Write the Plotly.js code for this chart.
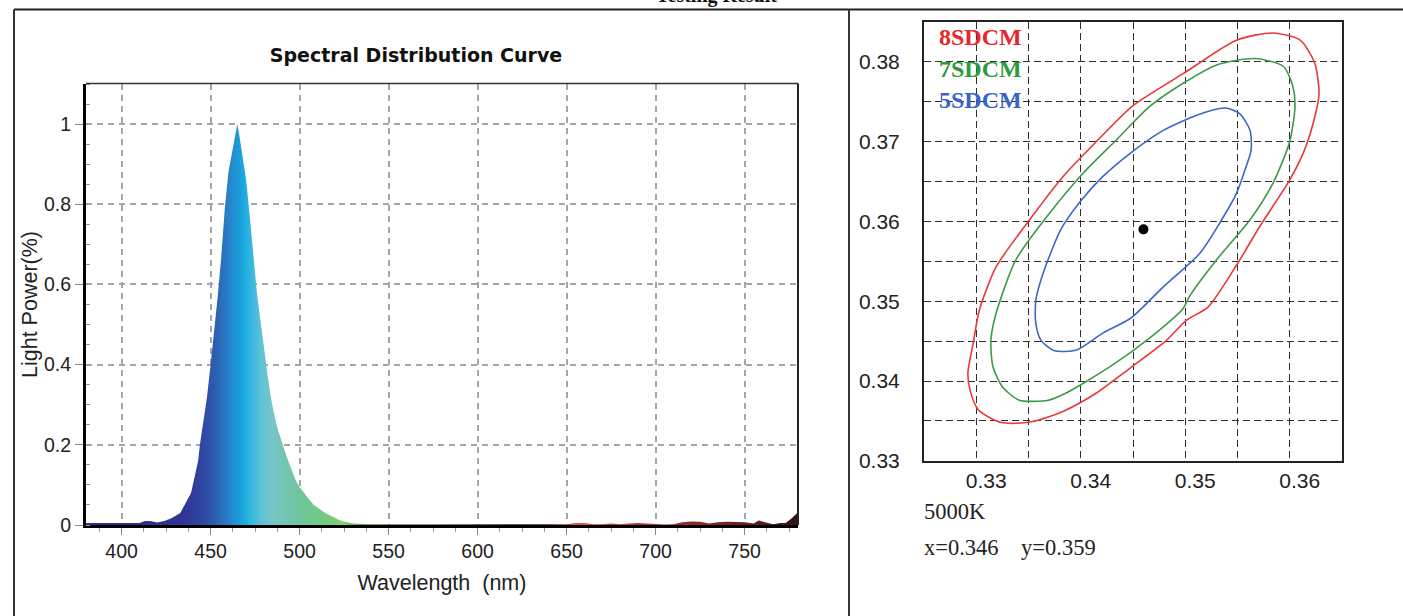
<!DOCTYPE html>
<html>
<head>
<meta charset="utf-8">
<script src="https://cdn.plot.ly/plotly-3.0.1.min.js"></script>
<style>
  html, body { margin: 0; padding: 0; background: #fff; }
  #chart { width: 1403px; height: 616px; }
</style>
</head>
<body>
<div id="chart"></div>
<script>
// ---------- Spectral distribution data ----------
const wavelength = [380,385,390,395,400,405,410,413,416,420,424,428,431,433,436,439,441,443,444,446,448,450,452,454,456,458,460,462,464,465,466,468,470,472,474,476,478,480,482,484,486,488,490,492,494,496,498,500,502,504,506,508,510,512,514,516,518,520,522,524,526,528,530,540,550,560,570,580,590,600,610,620,630,640,650,655,660,665,670,675,680,685,690,695,700,705,710,715,720,725,730,735,740,745,750,755,758,762,766,770,773,776,780];
const lightPower = [0.005,0.005,0.004,0.005,0.004,0.004,0.005,0.010,0.010,0.006,0.010,0.017,0.025,0.030,0.055,0.080,0.120,0.160,0.200,0.260,0.320,0.400,0.480,0.570,0.670,0.790,0.880,0.930,0.980,1.000,0.975,0.920,0.860,0.770,0.670,0.580,0.510,0.440,0.375,0.315,0.270,0.235,0.205,0.180,0.155,0.130,0.110,0.095,0.083,0.070,0.060,0.050,0.043,0.037,0.031,0.026,0.021,0.017,0.013,0.010,0.008,0.006,0.004,0.002,0.001,0.001,0.001,0.001,0.001,0.001,0.001,0.001,0.001,0.001,0.002,0.005,0.005,0.002,0.002,0.004,0.002,0.004,0.005,0.004,0.002,0.001,0.002,0.007,0.009,0.008,0.004,0.007,0.008,0.008,0.007,0.004,0.011,0.006,0.002,0.005,0.005,0.015,0.032];

// wavelength -> display colour stops (style)
const colorWavelengths = [380,420,435,445,452,458,463,468,472,478,485,492,500,512,525,540,560,640,655,670,700,730,760,780];
const colorValues = ['#30308a','#2e2f8c','#2f3595','#2f45a2','#2d5cb0','#2a78c2','#2190d2','#1aa6de','#2eb6e0','#5cc2d6','#78c6c8','#74c4b2','#6ec69c','#72ca84','#84ce70','#6a8a48','#202020','#402020','#d85a40','#c84030','#a83030','#8a2424','#5a1818','#3a1010'];

// ---------- Chromaticity tolerance ellipses ----------
const sdcm8_x = [0.3584,0.3610,0.3624,0.3628,0.3624,0.3614,0.3600,0.3571,0.3549,0.3522,0.3501,0.3482,0.3447,0.3415,0.3383,0.3353,0.3324,0.3302,0.3294,0.3292,0.3297,0.3303,0.3319,0.3351,0.3383,0.3415,0.3450,0.3498,0.3549,0.3584];
const sdcm8_y = [0.3836,0.3827,0.3798,0.3760,0.3731,0.3689,0.3652,0.3593,0.3545,0.3493,0.3476,0.3451,0.3416,0.3385,0.3362,0.3349,0.3348,0.3364,0.3389,0.3410,0.3447,0.3489,0.3543,0.3602,0.3656,0.3700,0.3745,0.3785,0.3827,0.3836];
const sdcm7_x = [0.3567,0.3594,0.3603,0.3605,0.3600,0.3584,0.3562,0.3530,0.3504,0.3498,0.3463,0.3428,0.3386,0.3369,0.3341,0.3325,0.3316,0.3314,0.3319,0.3338,0.3370,0.3402,0.3434,0.3466,0.3498,0.3530,0.3567];
const sdcm7_y = [0.3804,0.3794,0.3769,0.3744,0.3700,0.3648,0.3602,0.3552,0.3506,0.3491,0.3451,0.3418,0.3385,0.3376,0.3376,0.3393,0.3418,0.3451,0.3485,0.3552,0.3610,0.3660,0.3702,0.3744,0.3773,0.3796,0.3804];
const sdcm5_x = [0.3538,0.3552,0.3562,0.3563,0.3557,0.3549,0.3533,0.3514,0.3479,0.3448,0.3421,0.3396,0.3375,0.3362,0.3357,0.3357,0.3364,0.3381,0.3399,0.3421,0.3447,0.3479,0.3511,0.3538];
const sdcm5_y = [0.3742,0.3735,0.3714,0.3689,0.3664,0.3635,0.3598,0.3560,0.3518,0.3479,0.3460,0.3439,0.3438,0.3451,0.3472,0.3501,0.3535,0.3590,0.3624,0.3656,0.3685,0.3714,0.3733,0.3742];
const pointX = [0.346];
const pointY = [0.359];

const xTicks1 = [400,450,500,550,600,650,700,750];
const yTicks1 = [0,0.2,0.4,0.6,0.8,1];
const xTicks2 = [0.33,0.335,0.34,0.345,0.35,0.355,0.36];
const xTickText2 = ['0.33','','0.34','','0.35','','0.36'];
const yTicks2 = [0.33,0.335,0.34,0.345,0.35,0.355,0.36,0.365,0.37,0.375,0.38];
const yTickText2 = ['0.33','','0.34','','0.35','','0.36','','0.37','','0.38'];

const legendNames = ['8SDCM','7SDCM','5SDCM'];
const legendColors = ['#e8262c','#2e9a3e','#3a64c8'];
const cctText = '5000K';
const coordText = 'x=0.346\u00a0\u00a0\u00a0\u00a0y=0.359';

// ---------- layout helpers (pixel -> paper, style only) ----------
const W = 1403, H = 616;
const px = v => v / W;
const py = v => 1 - v / H;

const cMin = colorWavelengths[0], cMax = colorWavelengths[colorWavelengths.length - 1];
const colorscale = colorWavelengths.map((w, i) => [(w - cMin) / (cMax - cMin), colorValues[i]]);

const ellipseLine = c => ({color: c, width: 1.6, shape: 'spline', smoothing: 0.7});

const traces = [
  {
    x: wavelength, y: lightPower, type: 'scatter', mode: 'lines',
    line: {width: 0, color: 'rgba(0,0,0,0)'},
    fill: 'tozeroy',
    fillgradient: {type: 'horizontal', colorscale: colorscale, start: cMin, stop: cMax},
    xaxis: 'x', yaxis: 'y', hoverinfo: 'x+y', showlegend: false
  },
  {x: sdcm8_x, y: sdcm8_y, type: 'scatter', mode: 'lines', line: ellipseLine('#e8383c'), xaxis: 'x2', yaxis: 'y2', showlegend: false, name: legendNames[0]},
  {x: sdcm7_x, y: sdcm7_y, type: 'scatter', mode: 'lines', line: ellipseLine('#3c9a4a'), xaxis: 'x2', yaxis: 'y2', showlegend: false, name: legendNames[1]},
  {x: sdcm5_x, y: sdcm5_y, type: 'scatter', mode: 'lines', line: ellipseLine('#3d66c8'), xaxis: 'x2', yaxis: 'y2', showlegend: false, name: legendNames[2]},
  {x: pointX, y: pointY, type: 'scatter', mode: 'markers', marker: {color: '#000', size: 10, symbol: 'circle'}, xaxis: 'x2', yaxis: 'y2', showlegend: false}
];

const tickFont1 = {family: 'Liberation Sans, Arial, sans-serif', size: 19.5, color: '#222'};
const tickFont2 = {family: 'Liberation Sans Narrow, Liberation Sans, Arial, sans-serif', size: 21, color: '#222'};

const layout = {
  width: W, height: H,
  margin: {l: 0, r: 0, t: 0, b: 0},
  paper_bgcolor: '#fff', plot_bgcolor: '#fff',
  title: {
    text: '<b>Spectral Distribution Curve</b>',
    x: px(416), xref: 'paper', xanchor: 'center',
    y: py(55), yref: 'paper', yanchor: 'middle',
    font: {family: 'DejaVu Sans, sans-serif', size: 19, color: '#111'}
  },
  xaxis: {
    domain: [px(86), px(798)], range: [380, 780], anchor: 'y',
    tickvals: xTicks1, ticks: 'outside', ticklen: 7, tickcolor: '#888', tickwidth: 1,
    tickfont: tickFont1,
    showgrid: true, gridcolor: '#a6a6a6', griddash: '6px,5px', gridwidth: 2,
    showline: true, linecolor: '#000', linewidth: 3, zeroline: false,
    minor: {dtick: 12.5, tick0: 400, ticks: 'outside', ticklen: 4, tickcolor: '#999', showgrid: false},
    title: {text: 'Wavelength\u00a0 (nm)', font: {family: 'Liberation Sans, Arial, sans-serif', size: 21.5, color: '#222'}, standoff: 14},
    fixedrange: true
  },
  yaxis: {
    domain: [py(525), py(84)], range: [0, 1.1], anchor: 'x',
    tickvals: yTicks1, ticks: 'outside', ticklen: 8, tickcolor: '#888', tickwidth: 1,
    tickfont: tickFont1,
    showgrid: true, gridcolor: '#a6a6a6', griddash: '6px,5px', gridwidth: 2,
    showline: true, linecolor: '#000', linewidth: 3, zeroline: false,
    minor: {dtick: 0.05, tick0: 0, ticks: 'inside', ticklen: 4, tickcolor: '#999', showgrid: false},
    title: {text: 'Light Power(%)', font: {family: 'Liberation Sans, Arial, sans-serif', size: 21.5, color: '#222'}, standoff: 1},
    fixedrange: true
  },
  xaxis2: {
    domain: [px(924), px(1342)], range: [0.325, 0.365], anchor: 'y2',
    tickvals: xTicks2, ticktext: xTickText2, ticks: '', ticklabelshift: 10, ticklabelstandoff: 0,
    tickfont: tickFont2,
    showgrid: true, gridcolor: '#2e2e2e', griddash: '7px,4px', gridwidth: 1,
    showline: true, mirror: true, linecolor: '#222', linewidth: 2, zeroline: false,
    fixedrange: true
  },
  yaxis2: {
    domain: [py(460.9), py(21.8)], range: [0.33, 0.385], anchor: 'x2',
    tickvals: yTicks2, ticktext: yTickText2, ticks: '', ticklabelstandoff: 18,
    tickfont: tickFont2,
    showgrid: true, gridcolor: '#2e2e2e', griddash: '7px,4px', gridwidth: 1,
    showline: true, mirror: true, linecolor: '#222', linewidth: 2, zeroline: false,
    fixedrange: true
  },
  shapes: [
    // page frame
    {type: 'line', xref: 'paper', yref: 'paper', x0: px(14), x1: px(1403), y0: py(9.5), y1: py(9.5), line: {color: '#222', width: 2}},
    {type: 'line', xref: 'paper', yref: 'paper', x0: px(14), x1: px(14), y0: py(9.5), y1: py(616), line: {color: '#333', width: 2}},
    {type: 'line', xref: 'paper', yref: 'paper', x0: px(849), x1: px(849), y0: py(9.5), y1: py(616), line: {color: '#333', width: 2}},
    // thin top/right border of the spectrum plot
    {type: 'line', xref: 'paper', yref: 'paper', x0: px(86), x1: px(798), y0: py(83.5), y1: py(83.5), line: {color: '#333', width: 1.5}},
    {type: 'line', xref: 'paper', yref: 'paper', x0: px(798), x1: px(798), y0: py(83.5), y1: py(525), line: {color: '#222', width: 2}}
  ],
  annotations: [
    {text: '<b>Testing Result</b>', xref: 'paper', yref: 'paper', x: px(716), y: py(9), xanchor: 'center', yanchor: 'bottom', showarrow: false,
     font: {family: 'Liberation Serif, Times New Roman, serif', size: 20, color: '#111'}},
    ...legendNames.map((name, i) => ({
      text: '<b>' + name + '</b>', xref: 'paper', yref: 'paper', x: px(937), y: py(37 + i * 31.5),
      xanchor: 'left', yanchor: 'middle', showarrow: false,
      font: {family: 'Liberation Serif, Times New Roman, serif', size: 24, color: legendColors[i]}
    })),
    {text: cctText, xref: 'paper', yref: 'paper', x: px(922), y: py(511), xanchor: 'left', yanchor: 'middle', showarrow: false,
     font: {family: 'Liberation Serif, Times New Roman, serif', size: 22.5, color: '#222'}},
    {text: coordText, xref: 'paper', yref: 'paper', x: px(922), y: py(547), xanchor: 'left', yanchor: 'middle', showarrow: false,
     font: {family: 'Liberation Serif, Times New Roman, serif', size: 22.5, color: '#222'}}
  ]
};

Plotly.newPlot('chart', traces, layout, {displayModeBar: false});
</script>
</body>
</html>
